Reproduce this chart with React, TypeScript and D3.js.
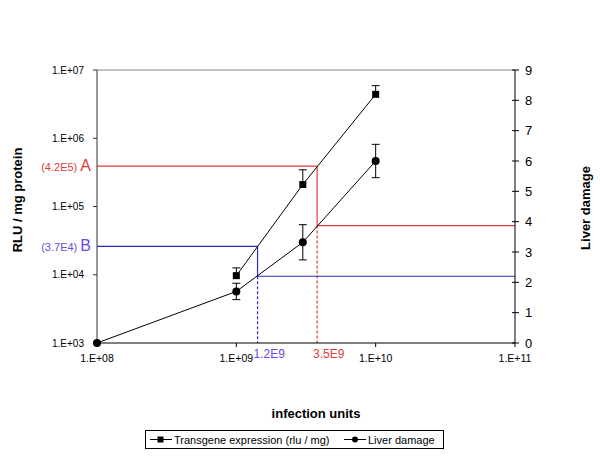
import React from "react";
import * as d3 from "d3";

const doses = [1e8, 1e9, 3e9, 1e10];
const transgene: (number | null)[] = [null, 9.7e3, 2.1e5, 4.4e6];
const transgeneErrTop: (number | null)[] = [null, 1.26e4, 3.45e5, 5.9e6];
const damage = [0, 1.7, 3.32, 6.0];
const damageErr = [0, 0.27, 0.58, 0.55];

const xTicks = [1e8, 1e9, 1e10, 1e11];
const xTickLabels = ["1.E+08", "1.E+09", "1.E+10", "1.E+11"];
const yTicks = [1e3, 1e4, 1e5, 1e6, 1e7];
const yTickLabels = ["1.E+03", "1.E+04", "1.E+05", "1.E+06", "1.E+07"];
const y2Ticks = [0, 1, 2, 3, 4, 5, 6, 7, 8, 9];

const annoLetters = ["A", "B"];
const annoRluLabels = ["(4.2E5)", "(3.7E4)"];
const annoDoseLabels = ["3.5E9", "1.2E9"];
const annoRlu = [3.9e5, 2.6e4];
const annoDose = [3.8e9, 1.42e9];
const annoDamage = [3.87, 2.2];
const annoLineColors = ["#e23b3b", "#2b2bc0"];
const annoTextColors = ["#e03c3c", "#6a4de6"];

const W = 600, H = 465;
const L = 97, R = 515, T = 70, B = 343;
const FONT = "Arial, 'Liberation Sans', sans-serif";

export default function App() {
  const x = d3.scaleLog().domain([1e8, 1e11]).range([L, R]);
  const y = d3.scaleLog().domain([1e3, 1e7]).range([B, T]);
  const y2 = d3.scaleLinear().domain([0, 9]).range([B, T]);

  const tgPts = doses
    .map((d, i) => ({ d, v: transgene[i], e: transgeneErrTop[i] }))
    .filter((p) => p.v != null) as { d: number; v: number; e: number }[];
  const dmPts = doses.map((d, i) => ({ d, v: damage[i], e: damageErr[i] }));

  const tgLine = d3.line<{ d: number; v: number }>().x((p) => x(p.d)).y((p) => y(p.v));
  const dmLine = d3.line<{ d: number; v: number }>().x((p) => x(p.d)).y((p) => y2(p.v));

  return (
    <svg width={W} height={H} style={{ position: "absolute", left: 0, top: 0, background: "#fff" }} fontFamily={FONT}>
      <rect x={0} y={0} width={W} height={H} fill="#fff" />
      {/* top frame */}
      <line x1={L} x2={R} y1={T} y2={T} stroke="#8a8a8a" strokeWidth={1} />

      {/* annotations */}
      {annoLetters.map((a, i) => {
        const xv = x(annoDose[i]);
        const yr = y(annoRlu[i]);
        const yd = y2(annoDamage[i]);
        const lc = annoLineColors[i];
        const tc = annoTextColors[i];
        return (
          <g key={a}>
            <line x1={L} x2={xv} y1={yr} y2={yr} stroke={lc} strokeWidth={1.2} />
            <line x1={xv} x2={xv} y1={yr} y2={yd} stroke={lc} strokeWidth={1.2} />
            <line x1={xv} x2={R} y1={yd} y2={yd} stroke={lc} strokeWidth={1.2} />
            <line x1={xv} x2={xv} y1={yd} y2={B} stroke={lc} strokeWidth={1.2} strokeDasharray="3,2" />
            <text x={91} y={yr + 5} textAnchor="end" fill={tc}>
              <tspan fontSize={11}>{annoRluLabels[i]} </tspan>
              <tspan fontSize={16}>{a}</tspan>
            </text>
            <text x={xv - 4} y={358} fontSize={12} fill={tc}>{annoDoseLabels[i]}</text>
          </g>
        );
      })}

      {/* left axis */}
      <line x1={L} x2={L} y1={T} y2={B} stroke="#333" strokeWidth={1} />
      {yTicks.map((t, i) => (
        <g key={t}>
          <line x1={L - 4} x2={L} y1={y(t)} y2={y(t)} stroke="#333" />
          <text x={L - 13} y={y(t) + 3.5} fontSize={10} textAnchor="end" fill="#000">{yTickLabels[i]}</text>
        </g>
      ))}
      {/* right axis */}
      <line x1={R} x2={R} y1={T} y2={B} stroke="#000" strokeWidth={1} />
      {y2Ticks.map((t) => (
        <g key={t}>
          <line x1={R - 3} x2={R + 4} y1={y2(t)} y2={y2(t)} stroke="#000" />
          <text x={R + 10} y={y2(t) + 4.5} fontSize={13} fill="#000">{t}</text>
        </g>
      ))}
      {/* x axis */}
      <line x1={L} x2={R} y1={B} y2={B} stroke="#000" strokeWidth={1} />
      {xTicks.map((t, i) => (
        <g key={t}>
          <line x1={x(t)} x2={x(t)} y1={B} y2={B + 4} stroke="#000" />
          <text x={x(t)} y={362} fontSize={10.5} textAnchor="middle" fill="#000">{xTickLabels[i]}</text>
        </g>
      ))}

      {/* series lines */}
      <path d={tgLine(tgPts) || ""} fill="none" stroke="#000" strokeWidth={1} />
      <path d={dmLine(dmPts) || ""} fill="none" stroke="#000" strokeWidth={1} />

      {/* error bars */}
      {tgPts.map((p) => (
        <g key={"te" + p.d} stroke="#000">
          <line x1={x(p.d)} x2={x(p.d)} y1={y(p.v)} y2={y(p.e)} />
          <line x1={x(p.d) - 4} x2={x(p.d) + 4} y1={y(p.e)} y2={y(p.e)} />
        </g>
      ))}
      {dmPts.filter((p) => p.e > 0).map((p) => (
        <g key={"de" + p.d} stroke="#000">
          <line x1={x(p.d)} x2={x(p.d)} y1={y2(p.v - p.e)} y2={y2(p.v + p.e)} />
          <line x1={x(p.d) - 4} x2={x(p.d) + 4} y1={y2(p.v + p.e)} y2={y2(p.v + p.e)} />
          <line x1={x(p.d) - 4} x2={x(p.d) + 4} y1={y2(p.v - p.e)} y2={y2(p.v - p.e)} />
        </g>
      ))}

      {/* markers */}
      {tgPts.map((p) => (
        <rect key={"tm" + p.d} x={x(p.d) - 3.5} y={y(p.v) - 3.5} width={7} height={7} fill="#000" />
      ))}
      {dmPts.map((p) => (
        <circle key={"dm" + p.d} cx={x(p.d)} cy={y2(p.v)} r={4} fill="#000" />
      ))}

      {/* axis titles */}
      <text transform="translate(22,200) rotate(-90)" textAnchor="middle" fontSize={13} fontWeight="bold" fill="#000">RLU / mg protein</text>
      <text transform="translate(590,208) rotate(-90)" textAnchor="middle" fontSize={13} fontWeight="bold" fill="#000">Liver damage</text>
      <text x={316} y={418} textAnchor="middle" fontSize={13} fontWeight="bold" fill="#000">infection units</text>

      {/* legend */}
      <rect x={145.5} y={430.5} width={298} height={18} fill="#fff" stroke="#000" strokeWidth={1} />
      <line x1={150} x2={172} y1={439.5} y2={439.5} stroke="#000" />
      <rect x={157.5} y={436.5} width={6} height={6} fill="#000" />
      <text x={174} y={443.5} fontSize={11} fill="#000">Transgene expression (rlu / mg)</text>
      <line x1={344} x2={366} y1={439.5} y2={439.5} stroke="#000" />
      <circle cx={355} cy={439.5} r={3} fill="#000" />
      <text x={368} y={443.5} fontSize={11} fill="#000">Liver damage</text>
    </svg>
  );
}
